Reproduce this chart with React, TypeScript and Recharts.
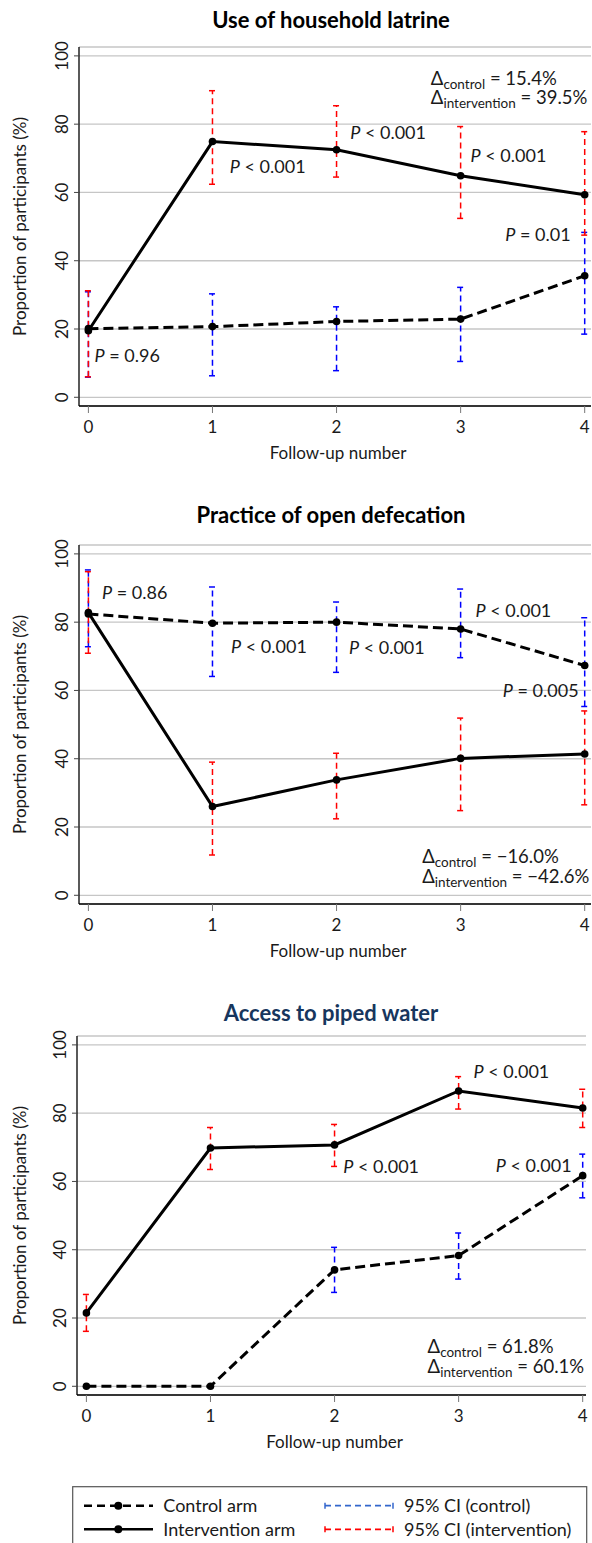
import React from 'react';
import { ComposedChart, Line, Scatter, XAxis, YAxis, CartesianGrid, ErrorBar } from 'recharts';

const FONT = "Lato, 'Open Sans', sans-serif";
const TEXT = '#1a1a1a';

// ---------- data ----------
const followUps = [0, 1, 2, 3, 4];
const yTicks = [0, 20, 40, 60, 80, 100];

// Use of household latrine
const latrineControl = [20.1, 20.7, 22.2, 22.9, 35.6];
const latrineControlLow = [5.9, 6.3, 7.8, 10.5, 18.5];
const latrineControlHigh = [30.9, 30.3, 26.5, 32.2, 48.3];
const latrineIntervention = [19.5, 74.9, 72.5, 64.9, 59.3];
const latrineInterventionLow = [6.0, 62.4, 64.5, 52.4, 47.5];
const latrineInterventionHigh = [31.2, 89.8, 85.4, 79.3, 77.8];
const latrinePLabels = ['= 0.96', '< 0.001', '< 0.001', '< 0.001', '= 0.01'];
const latrineDeltas = ['15.4%', '39.5%'];

// Practice of open defecation
const defecationControl = [82.4, 79.7, 80.0, 78.0, 67.3];
const defecationControlLow = [72.8, 64.1, 65.3, 69.6, 55.3];
const defecationControlHigh = [95.3, 90.3, 85.9, 89.7, 81.3];
const defecationIntervention = [82.8, 26.0, 33.8, 40.1, 41.4];
const defecationInterventionLow = [70.9, 11.8, 22.4, 24.8, 26.5];
const defecationInterventionHigh = [94.8, 39.0, 41.6, 51.9, 54.0];
const defecationPLabels = ['= 0.86', '< 0.001', '< 0.001', '< 0.001', '= 0.005'];
const defecationDeltas = ['\u221216.0%', '\u221242.6%'];

// Access to piped water
const waterControl = [0, 0, 34.1, 38.3, 61.7];
const waterControlLow = [null, null, 27.5, 31.4, 55.2];
const waterControlHigh = [null, null, 40.7, 44.9, 68.0];
const waterIntervention = [21.5, 69.8, 70.7, 86.5, 81.5];
const waterInterventionLow = [16.1, 63.5, 64.4, 81.2, 75.8];
const waterInterventionHigh = [26.9, 75.8, 76.7, 90.7, 87.0];
const waterPLabels = ['< 0.001', '< 0.001', '< 0.001'];
const waterDeltas = ['61.8%', '60.1%'];

// annotation placement (data coordinates)
const latrinePPos = [[0.05, 12.1], [1.14, 67.5], [2.11, 77.6], [3.08, 70.9], [3.36, 47.7]];
const latrineDeltaPos = [[2.76, 93.4], [2.76, 87.8]];
const defecationPPos = [[0.11, 88.6], [1.15, 72.9], [2.1, 72.4], [3.12, 83.5], [3.34, 59.9]];
const defecationDeltaPos = [[2.69, 11.3], [2.69, 5.5]];
const waterPPos = [[3.12, 92.0], [2.07, 64.4], [3.3, 64.6]];
const waterDeltaPos = [[2.75, 11.6], [2.75, 5.8]];

type N = number | null;
function buildRows(c: N[], cLo: N[], cHi: N[], v: N[], vLo: N[], vHi: N[]) {
  return followUps.map((x, i) => ({
    x,
    control: c[i],
    controlErr: cLo[i] == null ? null : [(c[i] as number) - (cLo[i] as number), (cHi[i] as number) - (c[i] as number)],
    intervention: v[i],
    interventionErr: vLo[i] == null ? null : [(v[i] as number) - (vLo[i] as number), (vHi[i] as number) - (v[i] as number)],
  }));
}
function buildP(labels: string[], pos: number[][]) {
  return labels.map((label, i) => ({ x: pos[i][0], y: pos[i][1], label }));
}
function buildDelta(vals: string[], pos: number[][]) {
  const subs = ['control', 'intervention'];
  return vals.map((value, i) => ({ x: pos[i][0], y: pos[i][1], sub: subs[i], value }));
}

// ---------- rendering helpers ----------
const PText = (props: any) => {
  const { cx, cy, payload } = props;
  return (
    <text x={cx} y={cy + 6.3} fontFamily={FONT} fontSize={18} fill={TEXT} style={{ whiteSpace: 'pre' }}>
      <tspan fontStyle="italic">P</tspan>
      <tspan>{' ' + payload.label}</tspan>
    </text>
  );
};

const DeltaText = (props: any) => {
  const { cx, cy, payload } = props;
  return (
    <text x={cx} y={cy + 6.3} fontFamily={FONT} fontSize={18.5} fill={TEXT} style={{ whiteSpace: 'pre' }}>
      <tspan>Δ</tspan>
      <tspan fontSize={13.5} dy={4}>{payload.sub}</tspan>
      <tspan dy={-4}>{' = ' + payload.value}</tspan>
    </text>
  );
};

const XTick = (props: any) => (
  <text x={props.x} y={props.y + 17.8} textAnchor="middle" fontFamily={FONT} fontSize={17} fill={TEXT}>
    {props.payload.value}
  </text>
);

const YTick = (props: any) => {
  const tx = props.x - 3.6;
  const ty = props.y;
  return (
    <text x={tx} y={ty} transform={`rotate(-90 ${tx} ${ty})`} textAnchor="middle" fontFamily={FONT} fontSize={17} fill={TEXT}>
      {props.payload.value}
    </text>
  );
};

const YTitle = (props: any) => {
  const vb = props.viewBox || { x: 0, y: 47, width: 79, height: 359 };
  const cx = vb.x + 25.5;
  const cy = vb.y + vb.height / 2;
  return (
    <text x={cx} y={cy} transform={`rotate(-90 ${cx} ${cy})`} textAnchor="middle" fontFamily={FONT} fontSize={17} fill={TEXT}>
      Proportion of participants (%)
    </text>
  );
};

const XTitle = (props: any) => {
  const vb = props.viewBox || { x: 79, y: 406, width: 512, height: 60 };
  return (
    <text x={vb.x + vb.width / 2 + 3} y={vb.y + 52.8} textAnchor="middle" fontFamily={FONT} fontSize={17} fill={TEXT}>
      Follow-up number
    </text>
  );
};

type PanelProps = {
  title: string;
  titleColor: string;
  top: number;
  titleOffset: number;
  rows: any[];
  pAnn: any[];
  dAnn: any[];
  leftW: number;
  rightM: number;
  padRight: number;
};

function Panel({ title, titleColor, top, titleOffset, rows, pAnn, dAnn, leftW, rightM, padRight }: PanelProps) {
  return (
    <div style={{ position: 'absolute', left: 0, top, width: 592, height: 466 }}>
      <div
        style={{
          position: 'absolute', left: 71, width: 520, top: 47 + titleOffset - 15, height: 30, lineHeight: '30px',
          textAlign: 'center', fontFamily: FONT, fontWeight: 700, fontSize: 22, color: titleColor,
        }}
      >
        {title}
      </div>
      <ComposedChart width={592} height={466} data={rows} margin={{ top: 47, right: rightM, bottom: 0, left: 0 }}>
        <CartesianGrid vertical={false} stroke="#c6c6c6" strokeWidth={1.3} />
        <XAxis
          dataKey="x" type="number" domain={[0, 4]} ticks={followUps} padding={{ left: 9.4, right: padRight }}
          height={60} tickSize={7} stroke="#000" strokeWidth={1.3} tickLine={{ stroke: '#777', strokeWidth: 1 }}
          tick={(p: any) => <XTick {...p} />} label={{ content: (p: any) => <XTitle {...p} /> }}
        />
        <YAxis
          type="number" domain={[-2.55, 102.6]} ticks={yTicks} width={leftW} tickSize={5} stroke="#000" strokeWidth={1.3}
          tickLine={{ stroke: '#444', strokeWidth: 1 }} allowDataOverflow
          tick={(p: any) => <YTick {...p} />} label={{ content: (p: any) => <YTitle {...p} /> }}
        />
        <XAxis xAxisId="top" orientation="top" dataKey="x" type="number" domain={[0, 4]} height={0} tick={false} tickLine={false} stroke="#000" strokeWidth={1.3} />
        <YAxis yAxisId="right" orientation="right" type="number" domain={[0, 100]} width={0} tick={false} tickLine={false} stroke="#000" strokeWidth={1.3} />
        <Line
          dataKey="control" stroke="#000" strokeWidth={3} strokeDasharray="10 5"
          dot={{ r: 3.8, fill: '#000', stroke: 'none' }} activeDot={false} isAnimationActive={false}
        >
          <ErrorBar dataKey="controlErr" direction="y" width={3.5} stroke="#0000ff" strokeWidth={1.5} strokeDasharray="6 4" isAnimationActive={false} />
        </Line>
        <Line
          dataKey="intervention" stroke="#000" strokeWidth={3}
          dot={{ r: 3.8, fill: '#000', stroke: 'none' }} activeDot={false} isAnimationActive={false}
        >
          <ErrorBar dataKey="interventionErr" direction="y" width={3.5} stroke="#ff0000" strokeWidth={1.5} strokeDasharray="6 4" isAnimationActive={false} />
        </Line>
        <Scatter data={pAnn} dataKey="y" shape={(p: any) => <PText {...p} />} isAnimationActive={false} legendType="none" />
        <Scatter data={dAnn} dataKey="y" shape={(p: any) => <DeltaText {...p} />} isAnimationActive={false} legendType="none" />
      </ComposedChart>
    </div>
  );
}

function LegendBox() {
  const r1 = 19.7;
  const r2 = 43.3;
  const blue = '#3366cc';
  const red = '#ff0000';
  return (
    <svg style={{ position: 'absolute', left: 0, top: 1486 }} width={592} height={57}>
      <rect x={72.7} y={0.7} width={514} height={80} fill="#fff" stroke="#555" strokeWidth={1.2} />
      <line x1={84} x2={153} y1={r1} y2={r1} stroke="#000" strokeWidth={2.5} strokeDasharray="8 5" />
      <circle cx={118.3} cy={r1} r={4} fill="#000" />
      <text x={163.3} y={r1 + 6.3} fontFamily={FONT} fontSize={18} fill={TEXT}>Control arm</text>
      <line x1={84} x2={153} y1={r2} y2={r2} stroke="#000" strokeWidth={2.5} />
      <circle cx={118.3} cy={r2} r={4} fill="#000" />
      <text x={163.3} y={r2 + 6.3} fontFamily={FONT} fontSize={18} fill={TEXT}>Intervention arm</text>

      <line x1={325} x2={393} y1={r1} y2={r1} stroke={blue} strokeWidth={1.8} strokeDasharray="6 4" />
      <line x1={325} x2={325} y1={r1 - 3} y2={r1 + 3} stroke={blue} strokeWidth={1.5} />
      <line x1={393} x2={393} y1={r1 - 3} y2={r1 + 3} stroke={blue} strokeWidth={1.5} />
      <text x={404} y={r1 + 6.3} fontFamily={FONT} fontSize={18} fill={TEXT}>95% CI (control)</text>

      <line x1={325} x2={393} y1={r2} y2={r2} stroke={red} strokeWidth={1.8} strokeDasharray="6 4" />
      <line x1={325} x2={325} y1={r2 - 3} y2={r2 + 3} stroke={red} strokeWidth={1.5} />
      <line x1={393} x2={393} y1={r2 - 3} y2={r2 + 3} stroke={red} strokeWidth={1.5} />
      <text x={404} y={r2 + 6.3} fontFamily={FONT} fontSize={18} fill={TEXT}>95% CI (intervention)</text>
    </svg>
  );
}

export default function App() {
  const latrineRows = buildRows(latrineControl, latrineControlLow, latrineControlHigh, latrineIntervention, latrineInterventionLow, latrineInterventionHigh);
  const defecationRows = buildRows(defecationControl, defecationControlLow, defecationControlHigh, defecationIntervention, defecationInterventionLow, defecationInterventionHigh);
  const waterRows = buildRows(waterControl, waterControlLow, waterControlHigh, waterIntervention, waterInterventionLow, waterInterventionHigh);
  return (
    <div style={{ position: 'absolute', left: 0, top: 0, width: 592, height: 1543, overflow: 'hidden', background: '#fff' }}>
      <Panel
        title="Use of household latrine" titleColor="#000" top={0} titleOffset={-26.7}
        rows={latrineRows} pAnn={buildP(latrinePLabels, latrinePPos)} dAnn={buildDelta(latrineDeltas, latrineDeltaPos)}
        leftW={79} rightM={1} padRight={6.3}
      />
      <Panel
        title="Practice of open defecation" titleColor="#000" top={498} titleOffset={-30}
        rows={defecationRows} pAnn={buildP(defecationPLabels, defecationPPos)} dAnn={buildDelta(defecationDeltas, defecationDeltaPos)}
        leftW={79} rightM={1} padRight={6.3}
      />
      <Panel
        title="Access to piped water" titleColor="#17365d" top={989} titleOffset={-23}
        rows={waterRows} pAnn={buildP(waterPLabels, waterPPos)} dAnn={buildDelta(waterDeltas, waterDeltaPos)}
        leftW={77} rightM={6} padRight={3.3}
      />
      <LegendBox />
    </div>
  );
}
